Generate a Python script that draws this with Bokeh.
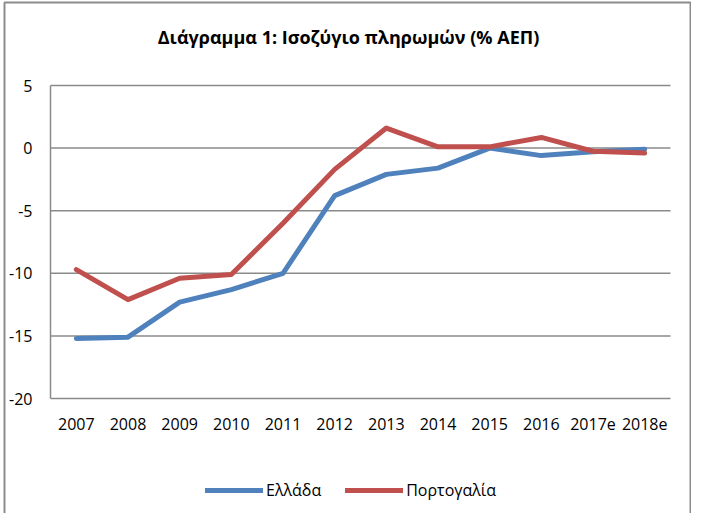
from bokeh.plotting import figure
from bokeh.models import Legend, LegendItem, Range1d
from bokeh.core.properties import value
from bokeh.embed import file_html
from bokeh.resources import INLINE

years = ["2007", "2008", "2009", "2010", "2011", "2012", "2013", "2014",
         "2015", "2016", "2017e", "2018e"]
greece = [-15.2, -15.1, -12.3, -11.3, -10.0, -3.8, -2.1, -1.6, 0.0, -0.6, -0.3, -0.1]
portugal = [-9.7, -12.1, -10.4, -10.1, -6.0, -1.7, 1.6, 0.1, 0.1, 0.85, -0.25, -0.4]
y_ticks = [-20, -15, -10, -5, 0, 5]
y_labels = ["-20", "-15", "-10", "-5", "0", "5"]
title_text = "Διάγραμμα 1: Ισοζύγιο πληρωμών (% ΑΕΠ)"
names = ["Ελλάδα", "Πορτογαλία"]

FONT = "Open Sans"
GRID = "#8a8a8a"
BORDER = "#8c8c8c"
BLUE = "#4F81BD"
RED = "#C0504D"

# canvas geometry (page pixels); the frame covers the whole canvas
W, H = 691, 513
PAGE_X0, PAGE_Y0 = 8, 8
PLOT_L, PLOT_R = 58, 678      # plot area, page px
PLOT_T, PLOT_B = 93, 406      # y=5 and y=-20, page px
Y_MIN, Y_MAX = y_ticks[0], y_ticks[-1]
n = len(years)

kx = (PLOT_R - PLOT_L) / n                    # px per category unit
ky = (PLOT_B - PLOT_T) / (Y_MAX - Y_MIN)      # px per value unit
x_start = -(PLOT_L - PAGE_X0) / kx
x_end = x_start + W / kx
y_top = Y_MAX + (PLOT_T - PAGE_Y0) / ky
y_bottom = y_top - H / ky


def sx(px):
    return x_start + (px - PAGE_X0) / kx


def sy(py):
    return y_top - (py - PAGE_Y0) / ky


p = figure(x_range=Range1d(x_start, x_end), y_range=Range1d(y_bottom, y_top),
           width=W, height=H, output_backend="svg", toolbar_location=None,
           x_axis_type=None, y_axis_type=None,
           min_border_left=0, min_border_right=0, min_border_top=0,
           min_border_bottom=0)
p.outline_line_color = None
p.background_fill_color = "white"
p.border_fill_color = "white"
p.grid.visible = False

# chart border (left, top, right; the bottom edge lies below the window)
p.line(x=[sx(12), sx(12), sx(698), sx(698)],
       y=[sy(540), sy(10), sy(10), sy(540)],
       line_color=BORDER, line_width=2)

# horizontal grid lines and the value axis line
p.segment(x0=[0] * len(y_ticks), x1=[n] * len(y_ticks), y0=y_ticks, y1=y_ticks,
          line_color=GRID, line_width=1.5)
p.segment(x0=[0], x1=[0], y0=[Y_MIN], y1=[Y_MAX], line_color=GRID, line_width=1.5)

# tick labels
p.text(x=[sx(40)] * len(y_ticks), y=y_ticks, text=y_labels,
       text_font=value(FONT), text_font_size="16px", text_color="#000000",
       text_align="right", text_baseline="middle")
xs = [i + 0.5 for i in range(n)]
p.text(x=xs, y=[sy(431)] * n, text=years,
       text_font=value(FONT), text_font_size="16px", text_color="#000000",
       text_align="center", text_baseline="middle")

# title
p.text(x=[sx(356)], y=[sy(44)], text=[title_text],
       text_font=value(FONT), text_font_size="18px", text_font_style="bold",
       text_color="#000000", text_align="center", text_baseline="middle")

# data series
r1 = p.line(xs, greece, line_color=BLUE, line_width=5,
            line_cap="round", line_join="round")
r2 = p.line(xs, portugal, line_color=RED, line_width=5,
            line_cap="round", line_join="round")

legend = Legend(items=[LegendItem(label=names[0], renderers=[r1]),
                       LegendItem(label=names[1], renderers=[r2])],
                orientation="horizontal", location=(205, 12),
                glyph_width=58, glyph_height=20, label_height=20,
                label_standoff=3, spacing=24, padding=0, margin=0,
                border_line_color=None, background_fill_alpha=0,
                label_text_font=FONT, label_text_font_size="16px",
                label_text_color="#000000")
p.add_layout(legend)

open("out.html", "w").write(file_html(p, INLINE))
